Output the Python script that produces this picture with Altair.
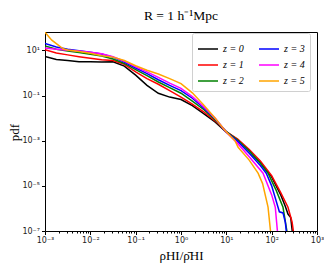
import altair as alt
import pandas as pd
import numpy as np

# log10 of x and log10 of pdf
x0 = [-3, -2.75, -2.5, -2.25, -2, -1.75, -1.5, -1.25, -1, -0.75, -0.5, -0.25, 0, 0.25, 0.5, 0.75, 1.0, 1.25, 1.5, 1.75, 2.0, 2.2, 2.3, 2.36, 2.42, 2.47]
y0 = [0.73, 0.6, 0.55, 0.5, 0.49, 0.48, 0.49, 0.3, -0.1, -0.55, -0.9, -1.07, -1.18, -1.45, -1.8, -2.17, -2.62, -2.95, -3.45, -3.98, -4.6, -5.4, -5.9, -6.25, -6.4, -7.3]

x1 = [-3, -2.75, -2.5, -2.25, -2, -1.75, -1.5, -1.25, -1, -0.75, -0.5, -0.25, 0, 0.25, 0.5, 0.75, 1.0, 1.25, 1.5, 1.75, 2.0, 2.2, 2.36, 2.45, 2.5]
y1 = [1.03, 0.88, 0.8, 0.72, 0.65, 0.58, 0.55, 0.38, 0.05, -0.25, -0.5, -0.78, -1.07, -1.38, -1.72, -2.12, -2.6, -2.93, -3.38, -3.9, -4.55, -5.3, -5.95, -6.6, -7.3]

x2 = [-3, -2.75, -2.5, -2.25, -2, -1.75, -1.5, -1.25, -1, -0.75, -0.5, -0.25, 0, 0.25, 0.5, 0.75, 1.0, 1.25, 1.5, 1.75, 1.92, 2.1, 2.25, 2.36]
y2 = [1.19, 1.05, 0.97, 0.9, 0.83, 0.75, 0.62, 0.42, 0.15, -0.12, -0.4, -0.65, -0.9, -1.25, -1.62, -2.07, -2.6, -2.97, -3.45, -4.0, -4.44, -5.2, -5.95, -7.3]

x3 = [-3, -2.75, -2.5, -2.25, -2, -1.75, -1.5, -1.25, -1, -0.75, -0.5, -0.25, 0, 0.25, 0.5, 0.75, 1.0, 1.25, 1.5, 1.75, 1.88, 2.0, 2.14, 2.17, 2.25, 2.3, 2.34]
y3 = [1.3, 1.15, 1.05, 0.98, 0.92, 0.84, 0.7, 0.48, 0.22, -0.03, -0.3, -0.55, -0.78, -1.12, -1.55, -2.02, -2.62, -3.03, -3.55, -4.1, -4.44, -5.0, -5.95, -6.15, -6.2, -6.6, -7.3]

x4 = [-3, -2.75, -2.5, -2.25, -2, -1.75, -1.5, -1.25, -1, -0.75, -0.5, -0.25, 0, 0.25, 0.5, 0.75, 1.0, 1.25, 1.5, 1.81, 2.0, 2.08, 2.14]
y4 = [1.1, 1.05, 1.0, 0.97, 0.92, 0.85, 0.72, 0.52, 0.27, 0.05, -0.2, -0.45, -0.68, -1.05, -1.5, -2.0, -2.63, -3.12, -3.7, -4.44, -5.4, -5.95, -7.3]

x5 = [-3, -2.85, -2.6, -2.5, -2.25, -2, -1.75, -1.5, -1.25, -1, -0.75, -0.5, -0.25, 0, 0.25, 0.5, 0.75, 1.0, 1.19, 1.26, 1.5, 1.7, 1.8, 1.92, 1.99]
y5 = [1.8, 1.45, 1.07, 1.02, 0.95, 0.87, 0.76, 0.7, 0.55, 0.32, 0.12, -0.05, -0.25, -0.47, -0.88, -1.42, -2.0, -2.62, -3.0, -3.29, -3.85, -4.44, -4.9, -5.94, -7.3]

labels = ["z = 0", "z = 1", "z = 2", "z = 3", "z = 4", "z = 5"]
colors = ["#000000", "#ff0000", "#008000", "#0000ff", "#ff00ff", "#ffa500"]
xs = [x0, x1, x2, x3, x4, x5]
ys = [y0, y1, y2, y3, y4, y5]

rows = []
for lab, xx, yy in zip(labels, xs, ys):
    for i, (a, b) in enumerate(zip(xx, yy)):
        rows.append({"z": lab, "i": i, "x": 10.0 ** a, "pdf": 10.0 ** b})
df = pd.DataFrame(rows)

x_ticks = [m * 10.0 ** e for e in range(-3, 3) for m in range(1, 10)] + [1000.0]
y_ticks = [1e1, 1e-1, 1e-3, 1e-5, 1e-7]

LOGV = "round(log(datum.value)/LN10)"
SUP = "['⁰','¹','²','³','⁴','⁵','⁶','⁷','⁸','⁹']"
major_test = f"abs(log(datum.value)/LN10 - {LOGV}) < 0.001"
lab_expr = f"{major_test} ? '10' + ({LOGV} < 0 ? '⁻' : '') + {SUP}[abs({LOGV})] : ''"

chart = alt.Chart(df).mark_line(strokeWidth=1.5, clip=True).encode(
    x=alt.X("x:Q", scale=alt.Scale(type="log", domain=[1e-3, 1e3]),
            axis=alt.Axis(values=x_ticks, labelExpr=lab_expr, title="ρHI/ρ̄HI",
                          tickSize={"condition": {"test": major_test, "value": 3.5}, "value": 2},
                          labelOverlap=False, labelFlush=False, grid=False, domain=False,
                          tickColor="black", labelColor="#222222", labelFont="DejaVu Sans",
                          labelFontSize=8, labelPadding=2,
                          titleFont="Liberation Serif", titleFontSize=13, titleFontWeight="normal",
                          titleColor="black", titlePadding=5)),
    y=alt.Y("pdf:Q", scale=alt.Scale(type="log", domain=[1e-7, 65]),
            axis=alt.Axis(values=y_ticks, labelExpr=lab_expr, title="pdf",
                          tickSize=3.5, labelOverlap=False, labelFlush=False, grid=False,
                          domain=False, tickColor="black", labelColor="#222222",
                          labelFont="DejaVu Sans", labelFontSize=8, labelPadding=2,
                          titleFont="Liberation Serif", titleFontSize=13, titleFontWeight="normal",
                          titleColor="black", titleX=-24, titleY=100,
                          titleAlign="center", titleBaseline="bottom")),
    color=alt.Color("z:N", scale=alt.Scale(domain=labels, range=colors),
                    legend=alt.Legend(orient="none", legendX=147, legendY=1, columns=2,
                                      title=None, symbolType="stroke", symbolSize=400,
                                      symbolStrokeWidth=1.5, labelFont="Liberation Serif",
                                      labelFontSize=10, labelFontStyle="italic",
                                      strokeColor="#d0d0d0", fillColor="white",
                                      padding=5, cornerRadius=2, columnPadding=12,
                                      rowPadding=-6)),
    detail="z:N",
    order="i:Q",
).properties(
    width=272, height=199,
    title=alt.TitleParams("R = 1 h⁻¹Mpc", font="Liberation Serif", fontSize=13.5,
                          fontWeight="normal", color="black", offset=10, anchor="middle"),
    autosize=alt.AutoSizeParams(type="none"),
    padding={"left": 37, "top": 24, "right": 7, "bottom": 37},
).configure_view(stroke="black", strokeWidth=1)

chart.save("out.html", embed_options={"renderer": "svg", "actions": False})
